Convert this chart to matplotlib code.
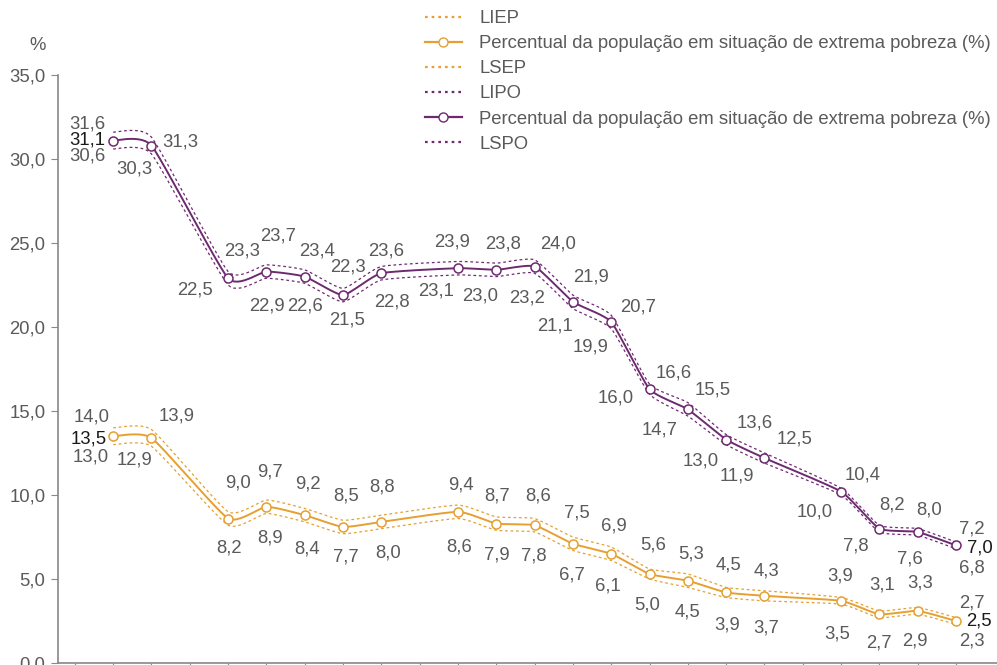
import matplotlib
matplotlib.use("Agg")
import matplotlib.pyplot as plt
import numpy as np
from matplotlib.lines import Line2D

plt.rcParams["font.family"] = ["Liberation Sans", "DejaVu Sans"]

# PNAD years (no survey in 1994, 2000, 2010)
years = [1992, 1993, 1995, 1996, 1997, 1998, 1999, 2001, 2002, 2003,
         2004, 2005, 2006, 2007, 2008, 2009, 2011, 2012, 2013, 2014]

# extreme poverty (orange) with lower / upper bounds
ep_value = [13.5, 13.4, 8.6, 9.3, 8.8, 8.1, 8.4, 9.0, 8.3, 8.2,
            7.1, 6.5, 5.3, 4.9, 4.2, 4.0, 3.7, 2.9, 3.1, 2.5]
ep_lower = [13.0, 12.9, 8.2, 8.9, 8.4, 7.7, 8.0, 8.6, 7.9, 7.8,
            6.7, 6.1, 5.0, 4.5, 3.9, 3.7, 3.5, 2.7, 2.9, 2.3]
ep_upper = [14.0, 13.9, 9.0, 9.7, 9.2, 8.5, 8.8, 9.4, 8.7, 8.6,
            7.5, 6.9, 5.6, 5.3, 4.5, 4.3, 3.9, 3.1, 3.3, 2.7]

# second series (purple) with lower / upper bounds
po_value = [31.1, 30.8, 22.9, 23.3, 23.0, 21.9, 23.2, 23.5, 23.4, 23.6,
            21.5, 20.3, 16.3, 15.1, 13.3, 12.2, 10.2, 8.0, 7.8, 7.0]
po_lower = [30.6, 30.3, 22.5, 22.9, 22.6, 21.5, 22.8, 23.1, 23.0, 23.2,
            21.1, 19.9, 16.0, 14.7, 13.0, 11.9, 10.0, 7.8, 7.6, 6.8]
po_upper = [31.6, 31.3, 23.3, 23.7, 23.4, 22.3, 23.6, 23.9, 23.8, 24.0,
            21.9, 20.7, 16.6, 15.5, 13.6, 12.5, 10.4, 8.2, 8.0, 7.2]

label_main = "Percentual da população em situação de extrema pobreza (%)"

ORANGE = "#E5A031"
PURPLE = "#6E2A70"
GREY = "#5a5a5a"
FS = 13.3

# label offsets in pixels (dx, dy), dy downward
ep_up_off = [(-22, -19), (25, -22), (10, -36), (4, -35), (3, -31), (3, -31), (1, -35),
             (3, -27), (1, -28), (4, -29), (4, -31), (3, -28), (4, -29), (3, -27),
             (2, -27), (2, -25), (-1, -25), (3, -29), (2, -28), (16, -18)]
ep_lo_off = [(-22, 21), (-17, 22), (1, 29), (4, 31), (2, 34), (3, 30), (7, 31),
             (1, 35), (1, 31), (-1, 31), (-1, 31), (-3, 32), (-2, 31), (0, 31),
             (1, 33), (2, 32), (-4, 33), (-1, 29), (-3, 30), (16, 20)]
po_up_off = [(-26, -17), (29, -4), (14, -27), (12, -36), (12, -26), (5, -28), (5, -22),
             (-6, -26), (7, -26), (23, -23), (18, -25), (27, -15), (24, -16), (25, -19),
             (29, -17), (30, -19), (22, -17), (13, -24), (11, -22), (16, -16)]
po_lo_off = [(-26, 15), (-17, 23), (-33, 12), (1, 34), (0, 29), (4, 25), (11, 29),
             (-22, 23), (-16, 26), (-8, 31), (-18, 24), (-21, 25), (-34, 9), (-28, 21),
             (-25, 21), (-28, 18), (-26, 20), (-24, 17), (-8, 27), (16, 23)]


def smooth(x, y, n=12, k=0.25):
    # cardinal spline through the points (like a spreadsheet "smoothed line")
    pts = np.column_stack([x, y]).astype(float)
    p = np.vstack([pts[0], pts, pts[-1]])
    t = np.linspace(0, 1, n, endpoint=False)[:, None]
    h00 = 2 * t**3 - 3 * t**2 + 1
    h10 = t**3 - 2 * t**2 + t
    h01 = -2 * t**3 + 3 * t**2
    h11 = t**3 - t**2
    out = []
    for i in range(1, len(p) - 2):
        m1 = (p[i + 1] - p[i - 1]) * k
        m2 = (p[i + 2] - p[i]) * k
        out.append(h00 * p[i] + h10 * m1 + h01 * p[i + 1] + h11 * m2)
    out.append(pts[-1:])
    c = np.vstack(out)
    return c[:, 0], c[:, 1]


def fmt(v):
    return f"{v:.1f}".replace(".", ",")


def draw_series(ax, value, lower, upper, color, up_off, lo_off, val_off):
    dot = (0, (2.2, 2.2))
    for band in (lower, upper):
        sx, sy = smooth(years, band)
        ax.plot(sx, sy, color=color, lw=0.9, ls=dot)
    sx, sy = smooth(years, value)
    ax.plot(sx, sy, color=color, lw=1.4)
    ax.plot(years, value, ls="none", marker="o", ms=6.5, mfc="white",
            mec=color, mew=1.1, zorder=3)

    for i, yr in enumerate(years):
        for v, off in ((upper[i], up_off[i]), (lower[i], lo_off[i])):
            ax.annotate(fmt(v), (yr, value[i]), xytext=(off[0], -off[1]),
                        textcoords="offset pixels", ha="center", va="center",
                        fontsize=FS, color=GREY)
    for i, off in ((0, val_off[0]), (-1, val_off[1])):
        ax.annotate(fmt(value[i]), (years[i], value[i]), xytext=(off[0], -off[1]),
                    textcoords="offset pixels", ha="center", va="center",
                    fontsize=FS, color="#1a1a1a")


fig = plt.figure(figsize=(9.97, 6.65), dpi=100)
ax = fig.add_axes([58 / 997, 2 / 665, 939 / 997, 588 / 665])

draw_series(ax, ep_value, ep_lower, ep_upper, ORANGE, ep_up_off, ep_lo_off,
            [(-24, 3), (23, 0)])
draw_series(ax, po_value, po_lower, po_upper, PURPLE, po_up_off, po_lo_off,
            [(-26, -1), (24, 3)])

ax.set_xlim(1990.56, 2015.07)
ax.set_ylim(0, 35)
ax.set_xticks(range(1991, 2015))
ax.set_xticklabels([])
ax.set_yticks(range(0, 36, 5))
ax.set_yticklabels([fmt(v) for v in range(0, 36, 5)])
ax.tick_params(axis="y", length=5, color="#888888", labelcolor=GREY,
               labelsize=FS, pad=4)
ax.tick_params(axis="x", length=5, color="#888888")
for side in ("top", "right"):
    ax.spines[side].set_visible(False)
for side in ("left", "bottom"):
    ax.spines[side].set_color("#888888")
    ax.spines[side].set_linewidth(1.2)
ax.patch.set_alpha(0)

fig.text(38 / 997, 1 - 45 / 665, "%", ha="center", va="center",
         fontsize=FS, color=GREY)

dot_h = (0, (1.2, 1.8))
handles = [
    Line2D([], [], color=ORANGE, lw=1.6, ls=dot_h),
    Line2D([], [], color=ORANGE, lw=1.6, marker="o", ms=6.5, mfc="white", mec=ORANGE),
    Line2D([], [], color=ORANGE, lw=1.6, ls=dot_h),
    Line2D([], [], color=PURPLE, lw=1.6, ls=dot_h),
    Line2D([], [], color=PURPLE, lw=1.6, marker="o", ms=6.5, mfc="white", mec=PURPLE),
    Line2D([], [], color=PURPLE, lw=1.6, ls=dot_h),
]
labels = ["LIEP", label_main, "LSEP", "LIPO", label_main, "LSPO"]
leg = fig.legend(handles, labels, loc="upper left",
                 bbox_to_anchor=(425 / 997, 1 - 10 / 665), frameon=False,
                 fontsize=FS, handlelength=2.0, handletextpad=0.95,
                 labelspacing=0.44, borderaxespad=0, borderpad=0)
for t in leg.get_texts():
    t.set_color(GREY)

fig.savefig("out.png", dpi=100)
